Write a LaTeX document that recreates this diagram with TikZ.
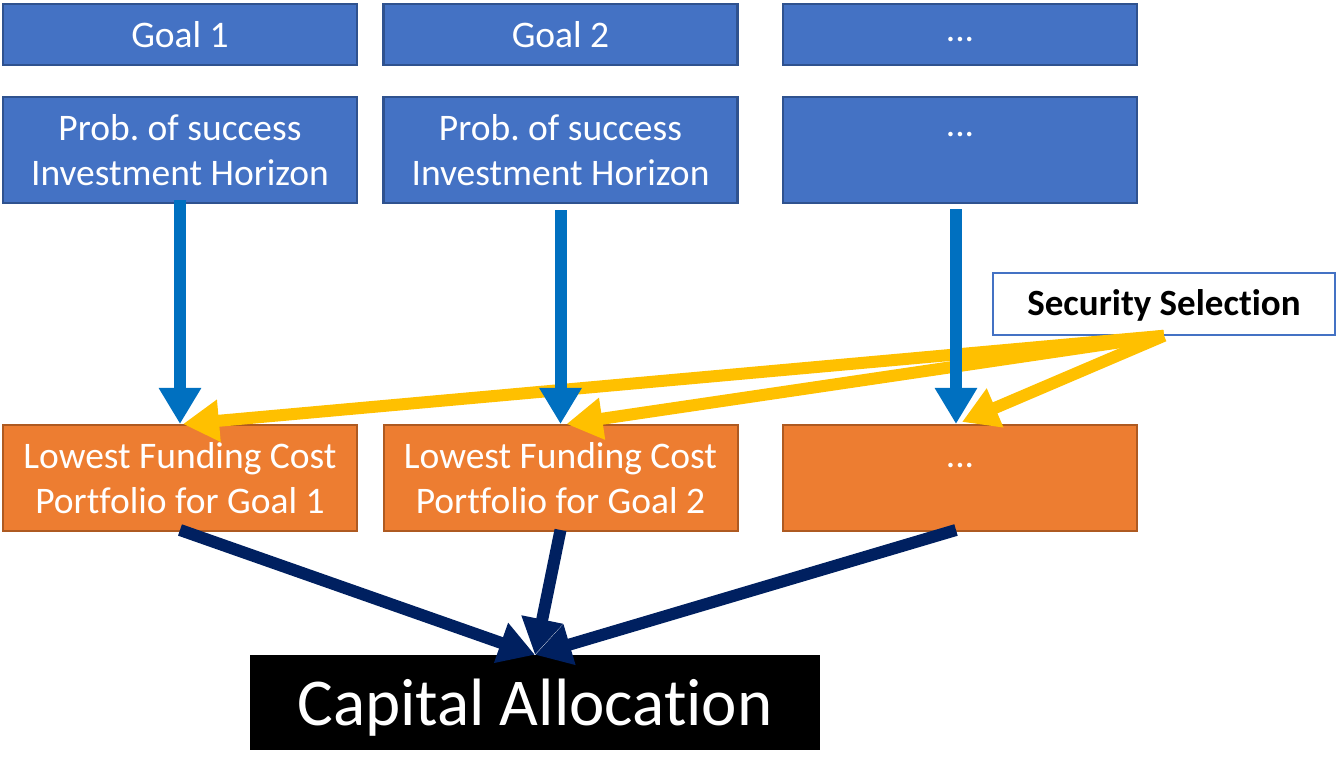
\documentclass[tikz,border=0pt]{standalone}
\usepackage{fontspec}
\setmainfont{Carlito}[Ligatures=NoCommon]
\frenchspacing
\usetikzlibrary{arrows.meta}
\definecolor{bfill}{HTML}{4472C4}
\definecolor{bdraw}{HTML}{2F528F}
\definecolor{ofill}{HTML}{ED7D31}
\definecolor{odraw}{HTML}{AE5A21}
\definecolor{arrblue}{HTML}{0070C0}
\definecolor{arryel}{HTML}{FFC000}
\definecolor{arrnavy}{HTML}{002060}
\tikzset{
  bluebox/.style={draw=bdraw, fill=bfill, line width=2.5pt, text=white, minimum width=354pt, align=center, inner sep=0pt, font=\fontsize{37.5}{45}\selectfont},
  orangebox/.style={draw=odraw, fill=ofill, line width=2pt, text=white, minimum width=354pt, minimum height=106pt, align=center, inner sep=0pt, font=\fontsize{37.5}{45}\selectfont},
  fatarrow/.style={line width=12pt, -{Triangle[width=40pt,length=36pt]}},
}
\begin{document}
\begin{tikzpicture}[x=1pt,y=-1pt]
\useasboundingbox (0,0) rectangle (1336,783);
% row 1
\node[bluebox, minimum height=61pt] (g1) at (180,34.5) {Goal 1};
\node[bluebox, minimum height=61pt] (g2) at (560.5,34.5) {Goal 2};
\node[bluebox, minimum height=61pt, text height=20pt, text depth=5pt] (g3) at (960,34.5) {...};
% row 2
\node[bluebox, minimum height=106pt] (p1) at (180,150) {Prob. of success\\Investment Horizon};
\node[bluebox, minimum height=106pt] (p2) at (560.5,150) {Prob. of success\\Investment Horizon};
\node[bluebox, minimum height=106pt, text height=10pt, text depth=36pt] (p3) at (960,150) {...};
% row 3
\node[orangebox] (o1) at (180,478) {Lowest Funding Cost\\Portfolio for Goal 1};
\node[orangebox] (o2) at (560.5,478) {Lowest Funding Cost\\Portfolio for Goal 2};
\node[orangebox, text height=10pt, text depth=32pt] (o3) at (960,478) {...};
% security selection
\node[draw=bfill, fill=white, line width=1.5pt, minimum width=342pt, minimum height=62pt, inner sep=0pt, text height=26pt, text depth=2pt, font=\bfseries\fontsize{37}{40}\selectfont] (ss) at (1164,304) {Security Selection};
% capital allocation
\node[fill=black, text=white, minimum width=570pt, minimum height=95pt, inner sep=0pt, text height=48pt, text depth=2pt, font=\fontsize{67}{70}\selectfont] (ca) at (535,702.5) {Capital Allocation};
% yellow arrows
\draw[fatarrow, arryel] (ss.south) -- ([xshift=3pt]o1.north);
\draw[fatarrow, arryel] (ss.south) -- ([xshift=6pt]o2.north);
\draw[fatarrow, arryel] (ss.south) -- ([xshift=2pt,yshift=2pt]o3.north);
% blue arrows
\draw[fatarrow, arrblue] ([yshift=4pt]p1.south) -- (o1.north);
\draw[fatarrow, arrblue] ([yshift=-6pt]p2.south) -- (o2.north);
\draw[fatarrow, arrblue] ([xshift=-4pt,yshift=-5pt]p3.south) -- ([xshift=-4pt]o3.north);
% navy arrows
\draw[fatarrow, arrnavy] ([yshift=2pt]o1.south) -- (ca.north);
\draw[fatarrow, arrnavy] ([yshift=2pt]o2.south) -- (ca.north);
\draw[fatarrow, arrnavy] ([xshift=-4pt,yshift=2pt]o3.south) -- (ca.north);
\end{tikzpicture}
\end{document}
